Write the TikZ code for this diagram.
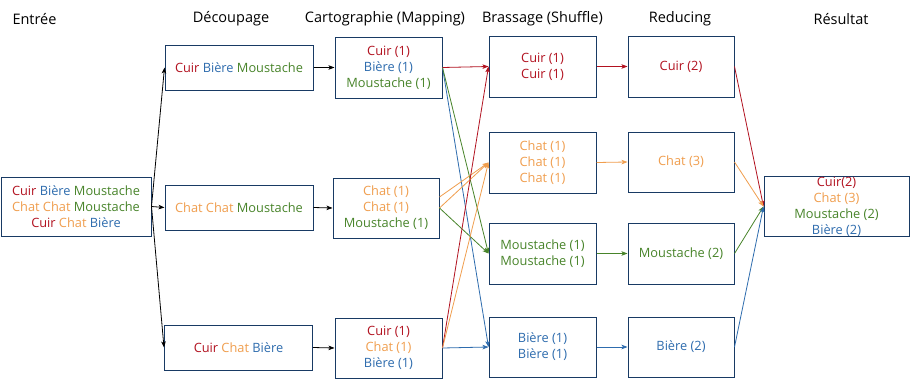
\documentclass[tikz,border=0pt]{standalone}
\usepackage{fontspec}
\setmainfont{Open Sans}
\usetikzlibrary{arrows.meta}
\definecolor{cred}{RGB}{178,18,32}
\definecolor{cblue}{RGB}{46,108,174}
\definecolor{cgreen}{RGB}{72,132,42}
\definecolor{corange}{RGB}{240,158,78}
\definecolor{cbox}{RGB}{24,58,100}
\newcommand{\R}[1]{\textcolor{cred}{#1}}
\newcommand{\B}[1]{\textcolor{cblue}{#1}}
\newcommand{\G}[1]{\textcolor{cgreen}{#1}}
\newcommand{\Or}[1]{\textcolor{corange}{#1}}
\begin{document}
\begin{tikzpicture}[x=1pt,y=-1pt,
  box/.style={draw=cbox,line width=1pt,inner sep=0pt,align=center,
    font=\fontsize{12.8}{16}\selectfont},
  hdr/.style={inner sep=0pt,font=\fontsize{14.5}{17}\selectfont},
  arr/.style={line width=0.8pt,-{Stealth[length=6pt,width=4.5pt,inset=1.5pt]}}]
\useasboundingbox (0,0) rectangle (913,391);
\fill[white] (0,0) rectangle (913,391);
% headers
\node[hdr] (h1) at (34.5,19) {Entrée};
\node[hdr] (h2) at (231,19) {Découpage};
\node[hdr] (h3) at (385,19) {Cartographie (Mapping)};
\node[hdr] (h4) at (542.5,19) {Brassage (Shuffle)};
\node[hdr] (h5) at (680,19) {Reducing};
\node[hdr] (h6) at (841,19) {Résultat};
% entree
\node[box,minimum width=150pt,minimum height=59pt] (entree) at (76,206.5)
  {\R{Cuir} \B{Bière} \G{Moustache}\\\Or{Chat Chat} \G{Moustache}\\\R{Cuir} \Or{Chat} \B{Bière}};
% decoupage
\node[box,minimum width=148pt,minimum height=45pt] (dec1) at (239,67.5) {\R{Cuir} \B{Bière} \G{Moustache}};
\node[box,minimum width=148pt,minimum height=45pt] (dec2) at (239,207.5) {\Or{Chat Chat} \G{Moustache}};
\node[box,minimum width=148pt,minimum height=45pt] (dec3) at (238.5,347.5) {\R{Cuir} \Or{Chat} \B{Bière}};
% mapping
\node[box,minimum width=107pt,minimum height=61pt] (map1) at (388.5,67.5) {\R{Cuir (1)}\\\B{Bière (1)}\\\G{Moustache (1)}};
\node[box,minimum width=106pt,minimum height=60pt] (map2) at (386,208) {\Or{Chat (1)}\\\Or{Chat (1)}\\\G{Moustache (1)}};
\node[box,minimum width=107pt,minimum height=60pt] (map3) at (388.5,348) {\R{Cuir (1)}\\\Or{Chat (1)}\\\B{Bière (1)}};
% shuffle
\node[box,minimum width=107pt,minimum height=61pt] (sh1) at (542.5,66.5) {\R{Cuir (1)}\\\R{Cuir (1)}};
\node[box,minimum width=107pt,minimum height=61pt] (sh2) at (542.5,162.5) {\Or{Chat (1)}\\\Or{Chat (1)}\\\Or{Chat (1)}};
\node[box,minimum width=107pt,minimum height=61pt] (sh3) at (542.5,253.5) {\G{Moustache (1)}\\\G{Moustache (1)}};
\node[box,minimum width=107pt,minimum height=60pt] (sh4) at (542.5,347) {\B{Bière (1)}\\\B{Bière (1)}};
% reducing
\node[box,minimum width=106pt,minimum height=61pt] (red1) at (681,66.5) {\R{Cuir (2)}};
\node[box,minimum width=106pt,minimum height=60pt] (red2) at (681,162) {\Or{Chat (3)}};
\node[box,minimum width=106pt,minimum height=61pt] (red3) at (681,253.5) {\G{Moustache (2)}};
\node[box,minimum width=106pt,minimum height=60pt] (red4) at (681,347) {\B{Bière (2)}};
% result
\node[box,minimum width=145pt,minimum height=59pt] (res) at (836.5,206.5)
  {\R{Cuir(2)}\\\Or{Chat (3)}\\\G{Moustache (2)}\\\B{Bière (2)}};
% edges entree -> decoupage
\draw[arr] (entree.east) -- (dec1.west);
\draw[arr] (entree.east) -- (dec2.west);
\draw[arr] (entree.east) -- (dec3.west);
% decoupage -> mapping
\draw[arr] (dec1.east) -- (map1.west);
\draw[arr] (dec2.east) -- (map2.west);
\draw[arr] (dec3.east) -- (map3.west);
% mapping -> shuffle
\draw[arr,cblue] (map1.east) -- (sh4.west);
\draw[arr,cgreen] (map1.east) -- (sh3.west);
\draw[arr,cred] (map1.east) -- (sh1.west);
\draw[arr,corange] ([yshift=11pt]map2.east) -- (sh2.west);
\draw[arr,corange] (map2.east) -- (sh2.west);
\draw[arr,cgreen] (map2.east) -- (sh3.west);
\draw[arr,cred] (map3.east) -- (sh1.west);
\draw[arr,corange] (map3.east) -- (sh2.west);
\draw[arr,cblue] (map3.east) -- (sh4.west);
% shuffle -> reducing
\draw[arr,cred] (sh1.east) -- (red1.west);
\draw[arr,corange] (sh2.east) -- (red2.west);
\draw[arr,cgreen] (sh3.east) -- (red3.west);
\draw[arr,cblue] (sh4.east) -- (red4.west);
% reducing -> result
\draw[arr,cred] (red1.east) -- (res.west);
\draw[arr,corange] (red2.east) -- (res.west);
\draw[arr,cgreen] (red3.east) -- (res.west);
\draw[arr,cblue] (red4.east) -- (res.west);
\end{tikzpicture}
\end{document}
